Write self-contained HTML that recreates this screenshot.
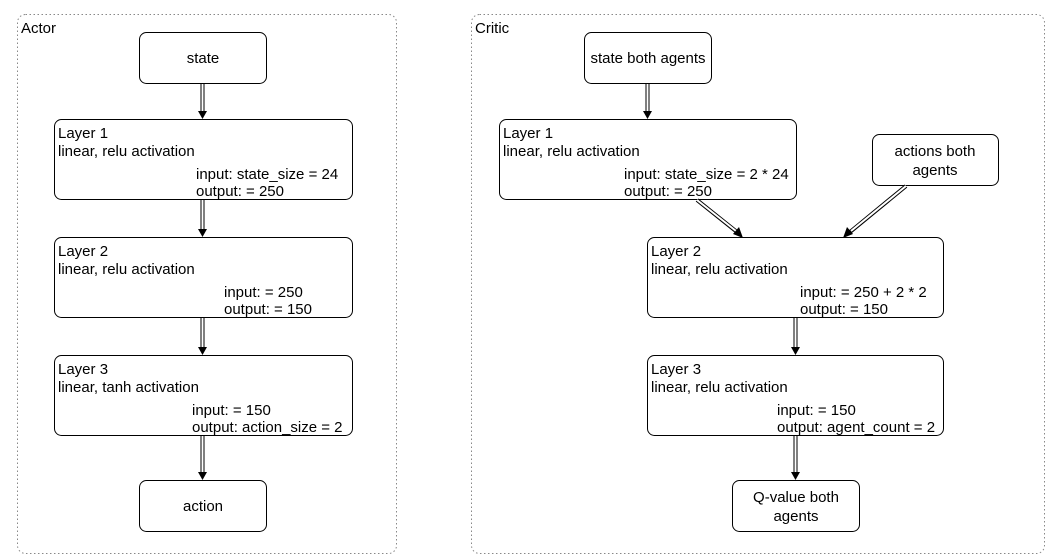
<!DOCTYPE html>
<html><head><meta charset="utf-8"><style>body{margin:0;background:#fff}svg{display:block}text{font-family:"Liberation Sans",Arial,sans-serif;font-size:15px;fill:#000}</style></head>
<body>
<svg width="1048" height="556" viewBox="0 0 1048 556">
<g fill="none" stroke="#888" stroke-dasharray="1.5,2.5">
<rect x="17.5" y="14.5" width="379" height="539" rx="8"/>
<rect x="471.5" y="14.5" width="573" height="539" rx="8"/>
</g>
<text x="21" y="33">Actor</text>
<text x="475" y="33">Critic</text>
<g fill="#fff" stroke="#000" stroke-width="1">
<rect x="139.5" y="32.5" width="127" height="51" rx="7"/>
<rect x="54.5" y="119.5" width="298" height="80" rx="7"/>
<rect x="54.5" y="237.5" width="298" height="80" rx="7"/>
<rect x="54.5" y="355.5" width="298" height="80" rx="7"/>
<rect x="139.5" y="480.5" width="127" height="51" rx="7"/>
<rect x="584.5" y="32.5" width="127" height="51" rx="7"/>
<rect x="499.5" y="119.5" width="297" height="80" rx="7"/>
<rect x="872.5" y="134.5" width="126" height="51" rx="7"/>
<rect x="647.5" y="237.5" width="296" height="80" rx="7"/>
<rect x="647.5" y="355.5" width="296" height="80" rx="7"/>
<rect x="732.5" y="480.5" width="127" height="51" rx="7"/>
</g>
<g stroke="#000" stroke-width="4" fill="none">
<path d="M202.5 84V113 M202.5 200V231 M202.5 318V349 M202.5 436V474 M647.5 84V113 M795.5 318V349 M795.5 436V474 M697 200L737 232 M906 186L850 232"/>
</g>
<g stroke="#fff" stroke-width="2" fill="none">
<path d="M202.5 84V112 M202.5 200V230 M202.5 318V348 M202.5 436V473 M647.5 84V112 M795.5 318V348 M795.5 436V473 M697 200L736 231 M906 186L851 231"/>
</g>
<g fill="#000">
<path d="M198 111L207 111L202.5 119Z M198 229L207 229L202.5 237Z M198 347L207 347L202.5 355Z M198 472L207 472L202.5 480Z M643 111L652 111L647.5 119Z M791 347L800 347L795.5 355Z M791 472L800 472L795.5 480Z M733 234L739 227L743 238Z M847 227L853 234L843 238Z"/>
</g>
<g text-anchor="middle">
<text x="203" y="63">state</text>
<text x="203" y="511">action</text>
<text x="648" y="63">state both agents</text>
<text x="935" y="156">actions both</text>
<text x="935" y="175">agents</text>
<text x="796" y="502">Q-value both</text>
<text x="796" y="521">agents</text>
</g>
<text x="58" y="138">Layer 1</text><text x="58" y="156">linear, relu activation</text>
<text x="196" y="179">input: state_size = 24</text><text x="196" y="196">output: = 250</text>
<text x="58" y="256">Layer 2</text><text x="58" y="274">linear, relu activation</text>
<text x="224" y="297">input: = 250</text><text x="224" y="314">output: = 150</text>
<text x="58" y="374">Layer 3</text><text x="58" y="392">linear, tanh activation</text>
<text x="192" y="415">input: = 150</text><text x="192" y="432">output: action_size = 2</text>
<text x="503" y="138">Layer 1</text><text x="503" y="156">linear, relu activation</text>
<text x="624" y="179">input: state_size = 2 * 24</text><text x="624" y="196">output: = 250</text>
<text x="651" y="256">Layer 2</text><text x="651" y="274">linear, relu activation</text>
<text x="800" y="297">input: = 250 + 2 * 2</text><text x="800" y="314">output: = 150</text>
<text x="651" y="374">Layer 3</text><text x="651" y="392">linear, relu activation</text>
<text x="777" y="415">input: = 150</text><text x="777" y="432">output: agent_count = 2</text>
</svg>
</body></html>
